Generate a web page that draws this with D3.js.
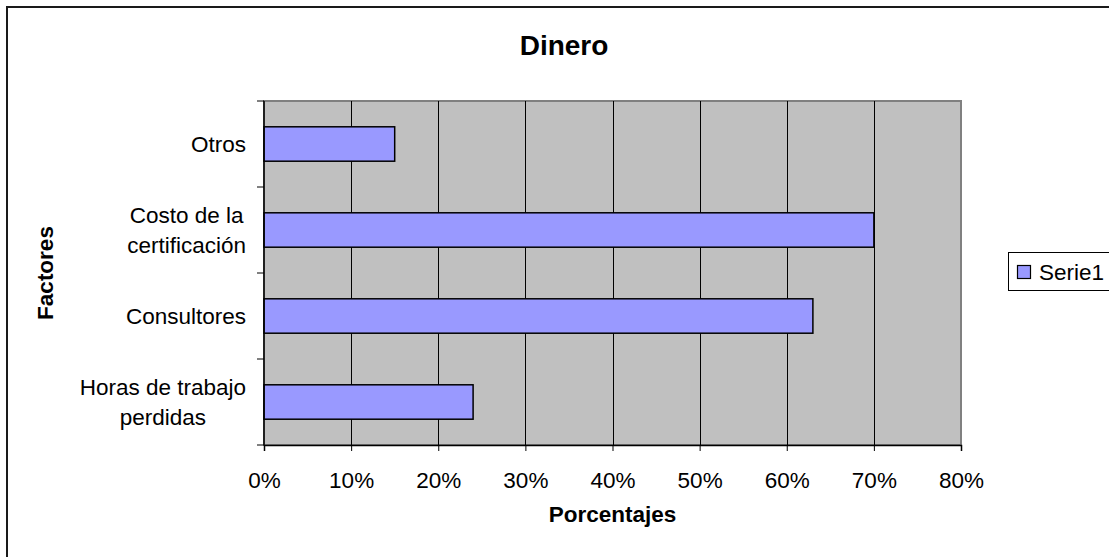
<!DOCTYPE html>
<html>
<head>
<meta charset="utf-8">
<script src="https://cdn.jsdelivr.net/npm/d3@7/dist/d3.min.js"></script>
<style>
  html, body { margin: 0; padding: 0; background: #fff; }
  svg { display: block; font-family: "Liberation Sans", Arial, sans-serif; }
</style>
</head>
<body>
<svg id="chart" width="1109" height="557"></svg>
<script>
// Categories listed bottom-to-top, "\n" marks a line break in the label
const categories = ["Horas de trabajo\nperdidas", "Consultores", "Costo de la\ncertificación", "Otros"];
const seriesName = "Serie1";
const values = [0.24, 0.63, 0.70, 0.15];
const xTicks = [0, 0.1, 0.2, 0.3, 0.4, 0.5, 0.6, 0.7, 0.8];
const title = "Dinero";
const xTitle = "Porcentajes";
const yTitle = "Factores";

const FONT = 22.5;
const svg = d3.select("#chart");
const plot = { left: 264, right: 961, top: 101, bottom: 445 };

// outer chart frame (runs past the right and bottom edges)
svg.append("rect")
  .attr("x", 7).attr("y", 7)
  .attr("width", 1200).attr("height", 700)
  .attr("fill", "#fff").attr("stroke", "#1a1a1a").attr("stroke-width", 2);

const x = d3.scaleLinear().domain([0, 0.8]).range([plot.left, plot.right]);
const y = d3.scaleBand()
  .domain(categories.slice().reverse())
  .range([plot.top, plot.bottom])
  .paddingInner(0.6).paddingOuter(0.3);
const yBand = d3.scaleBand().domain(categories.slice().reverse()).range([plot.top, plot.bottom]);

// plot area
svg.append("rect")
  .attr("x", plot.left).attr("y", plot.top)
  .attr("width", plot.right - plot.left).attr("height", plot.bottom - plot.top)
  .attr("fill", "#c0c0c0").attr("stroke", "#808080").attr("stroke-width", 2);

// vertical gridlines
svg.append("g").selectAll("line")
  .data(xTicks.slice(1, -1))
  .join("line")
  .attr("x1", d => Math.round(x(d)) + 0.5).attr("x2", d => Math.round(x(d)) + 0.5)
  .attr("y1", plot.top).attr("y2", plot.bottom)
  .attr("stroke", "#000").attr("stroke-width", 1);

// bars
svg.append("g").selectAll("rect")
  .data(categories.map((c, i) => ({ c, v: values[i] })))
  .join("rect")
  .attr("x", x(0))
  .attr("y", d => y(d.c))
  .attr("width", d => x(d.v) - x(0))
  .attr("height", y.bandwidth())
  .attr("fill", "#9999ff")
  .attr("stroke", "#000").attr("stroke-width", 1.5);

// x axis
const xAxis = svg.append("g")
  .attr("transform", `translate(0,${plot.bottom})`)
  .call(d3.axisBottom(x).tickValues(xTicks).tickFormat(d3.format(".0%")).tickSizeOuter(0).tickSize(6).tickPadding(21));
xAxis.select(".domain").attr("stroke", "#000").attr("stroke-width", 1.5);
xAxis.selectAll(".tick line").attr("stroke", "#000");
xAxis.selectAll("text")
  .attr("font-family", "Liberation Sans, Arial, sans-serif")
  .attr("font-size", FONT).attr("fill", "#000");

// y axis line and boundary ticks
const yAxisG = svg.append("g");
yAxisG.append("line")
  .attr("x1", plot.left).attr("x2", plot.left)
  .attr("y1", plot.top).attr("y2", plot.bottom)
  .attr("stroke", "#000").attr("stroke-width", 1.5);
const bounds = yBand.domain().map(c => yBand(c)).concat([plot.bottom]);
yAxisG.selectAll("line.tk")
  .data(bounds)
  .join("line").attr("class", "tk")
  .attr("x1", plot.left - 7).attr("x2", plot.left)
  .attr("y1", d => d).attr("y2", d => d)
  .attr("stroke", "#000");

// category labels: lines centered on each other, block right-aligned to the axis
const lineH = 30;
categories.forEach(c => {
  const lines = c.split("\n");
  const g = svg.append("g");
  const cy = yBand(c) + yBand.bandwidth() / 2;
  const texts = lines.map((t, i) => g.append("text")
    .attr("y", cy + (i - (lines.length - 1) / 2) * lineH)
    .attr("dy", "0.36em")
    .attr("text-anchor", "middle")
    .attr("font-size", FONT).attr("fill", "#000")
    .text(t));
  const w = d3.max(texts, t => t.node().getComputedTextLength());
  texts.forEach(t => t.attr("x", 246 - w / 2));
});

// titles
svg.append("text")
  .attr("x", 564).attr("y", 45).attr("dy", "0.36em")
  .attr("text-anchor", "middle")
  .attr("font-size", 28).attr("font-weight", "bold")
  .text(title);

svg.append("text")
  .attr("x", (plot.left + plot.right) / 2).attr("y", 514).attr("dy", "0.36em")
  .attr("text-anchor", "middle")
  .attr("font-size", FONT).attr("font-weight", "bold")
  .text(xTitle);

svg.append("text")
  .attr("transform", `translate(45,${(plot.top + plot.bottom) / 2}) rotate(-90)`)
  .attr("dy", "0.36em")
  .attr("text-anchor", "middle")
  .attr("font-size", FONT).attr("font-weight", "bold")
  .text(yTitle);

// legend
const legend = svg.append("g");
legend.append("rect")
  .attr("x", 1008.5).attr("y", 252.5).attr("width", 120).attr("height", 38)
  .attr("fill", "#fff").attr("stroke", "#000").attr("stroke-width", 1);
legend.append("rect")
  .attr("x", 1017.5).attr("y", 265.5).attr("width", 13).attr("height", 13)
  .attr("fill", "#9999ff").attr("stroke", "#000").attr("stroke-width", 1.2);
legend.append("text")
  .attr("x", 1039).attr("y", 272).attr("dy", "0.36em")
  .attr("font-size", FONT).attr("fill", "#000")
  .text(seriesName);
</script>
</body>
</html>
